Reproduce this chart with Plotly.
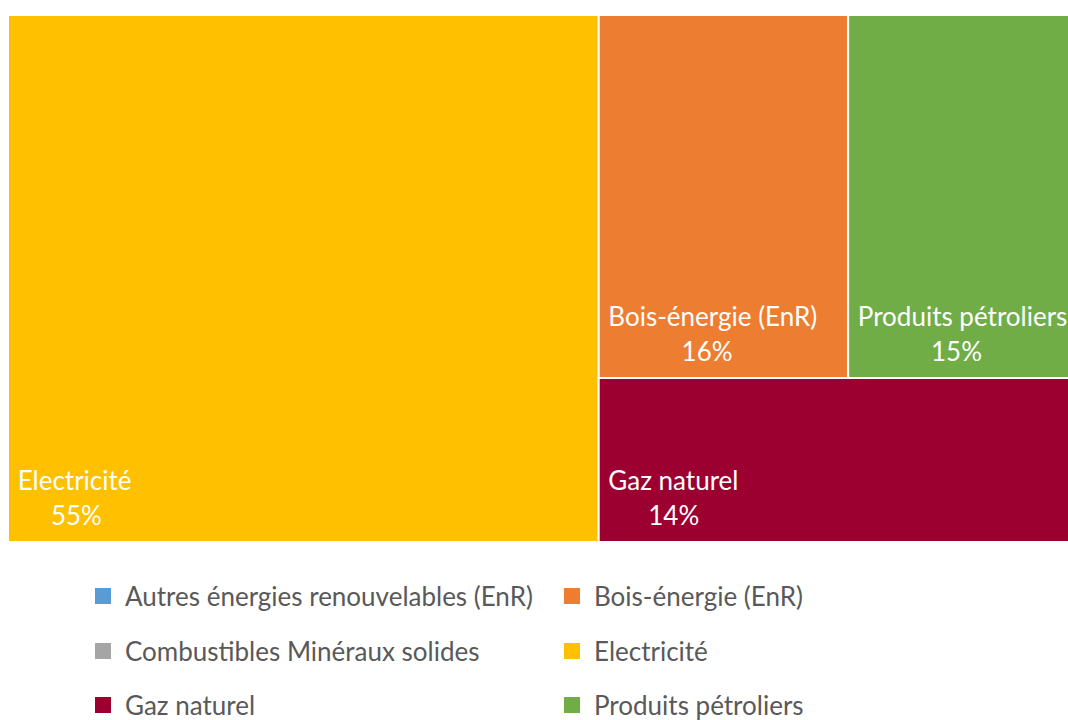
import plotly.graph_objects as go

categories = ["Autres énergies renouvelables (EnR)", "Bois-énergie (EnR)",
              "Combustibles Minéraux solides", "Electricité",
              "Gaz naturel", "Produits pétroliers"]
shares = [0, 16, 0, 55, 14, 15]
colors = ["#5B9BD5", "#ED7D31", "#A5A5A5", "#FFC000", "#9B0030", "#70AD47"]

FONT = "Lato, Open Sans, sans-serif"
BIG = 26
NB = "\u00a0"
W, H = 1082, 720   # figure slightly wider than the window: right edge is cropped as in the source

tm_labels = [c for c, v in zip(categories, shares) if v > 0]
tm_values = [v for v in shares if v > 0]
tm_colors = [col for col, v in zip(colors, shares) if v > 0]


def approx_width(s):
    narrow = set("iltrfj()-. ")
    k = BIG / 25.0
    return sum((7.0 if ch in narrow else 13.0) * k for ch in s)


def tile_text(label, value):
    # label line, then the percentage roughly centred under it
    pct_w = 47.0 * BIG / 25.0
    nb_w = 6.4 * BIG / 25.0
    n = max(0, int(round((approx_width(label) - pct_w) / 2 / nb_w)))
    big = '<span style="font-size:%dpx">%s</span>'
    return (big % (BIG, NB + label) + "<br><br><br>" +
            big % (BIG, NB + NB * n + "%d%%" % value) + "<br>" + NB)


tm_text = [tile_text(l, v) for l, v in zip(tm_labels, tm_values)]

fig = go.Figure()
fig.add_trace(go.Treemap(
    labels=tm_labels,
    parents=[""] * len(tm_labels),
    values=tm_values,
    text=tm_text,
    sort=True,
    marker=dict(colors=tm_colors, line=dict(color="white", width=2),
                pad=dict(t=0, l=0, r=0, b=0)),
    texttemplate="%{text}",
    textposition="bottom left",
    textfont=dict(family=FONT, size=9, color="white"),
    tiling=dict(packing="squarify", pad=0),
    pathbar=dict(visible=False),
    hoverinfo="label+value",
    domain=dict(x=[8 / W, 1.0], y=[1 - 542 / H, 1 - 15 / H]),
))

legend_names = ["legend", "legend2", "legend3", "legend4", "legend5", "legend6"]
for i, (c, col) in enumerate(zip(categories, colors)):
    fig.add_trace(go.Scatter(
        x=[None], y=[None], mode="markers", name=c,
        marker=dict(symbol="square", size=16, color=col),
        legend=legend_names[i], showlegend=True,
    ))

row_y = [596, 651, 705]
col_x = [81, 550]
legends = {}
for i, name in enumerate(legend_names):
    legends[name] = dict(
        xref="container", yref="container",
        x=col_x[i % 2] / W, y=1 - row_y[i // 2] / H,
        xanchor="left", yanchor="middle", orientation="v",
        font=dict(family=FONT, size=26, color="#595959"),
        bgcolor="rgba(0,0,0,0)", itemwidth=34,
    )

fig.update_layout(
    width=W, height=H,
    margin=dict(l=0, r=0, t=0, b=0, autoexpand=False),
    paper_bgcolor="white", plot_bgcolor="white",
    xaxis=dict(visible=False), yaxis=dict(visible=False),
    **legends,
)

fig.write_html("out.html",
               config={"displayModeBar": False},
               post_script="document.body.style.margin='0';"
                           "document.body.style.overflow='hidden';")
